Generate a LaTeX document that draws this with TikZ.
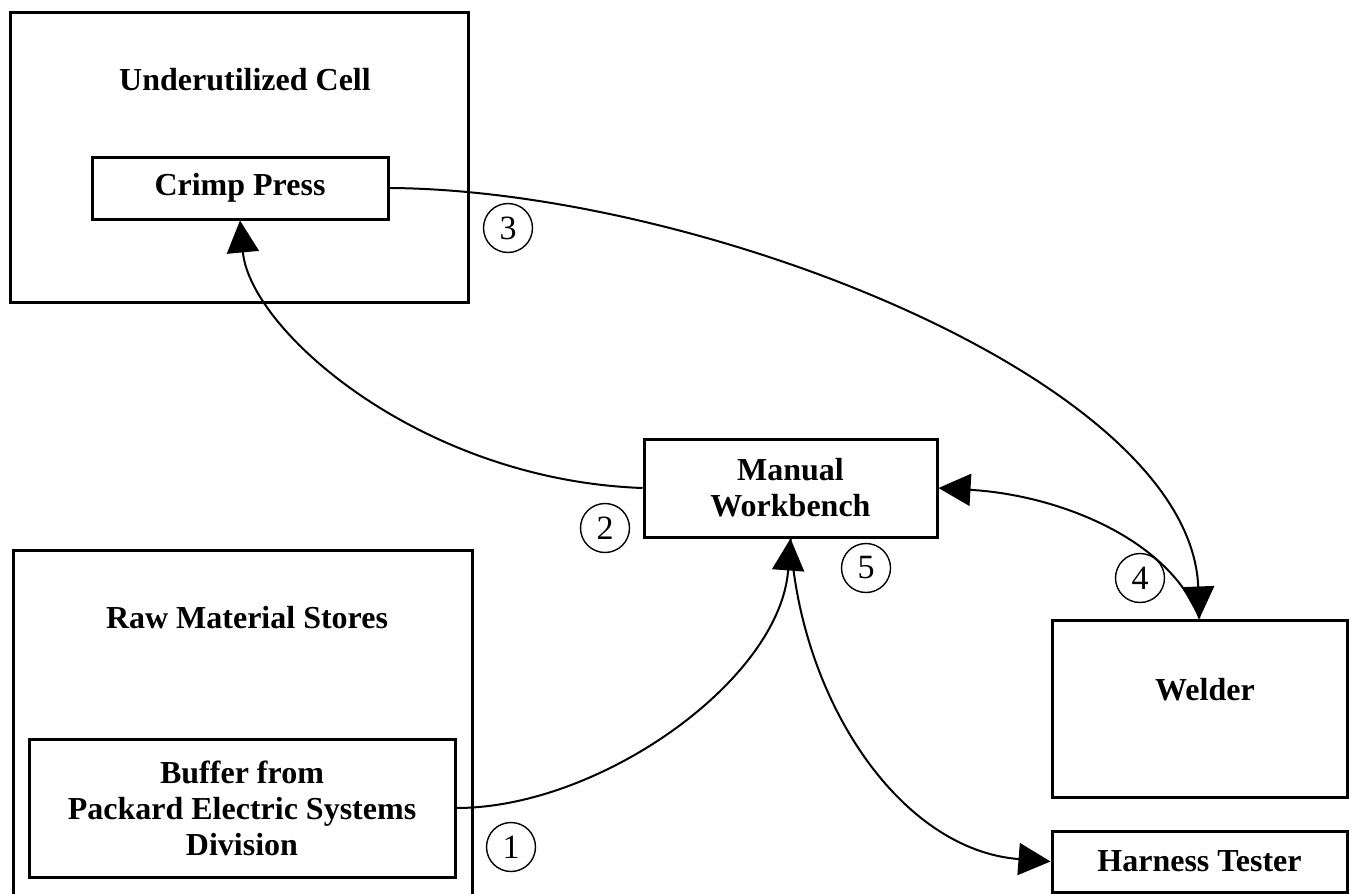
\documentclass[tikz,border=0pt]{standalone}
\usepackage{fontspec}
\setmainfont{Liberation Serif}
\usetikzlibrary{arrows.meta}
\begin{document}
\begin{tikzpicture}[x=0.5pt,y=-0.5pt,
  box/.style={draw, line width=1.5pt, inner sep=0pt, align=center, font=\fontsize{16}{18}\selectfont\bfseries},
  title/.style={inner sep=0pt, font=\fontsize{16}{18}\selectfont\bfseries},
  num/.style={draw, circle, line width=0.7pt, minimum size=24.5pt, inner sep=0pt, font=\fontsize{17}{20}\selectfont},
  conn/.style={line width=1pt, -{Triangle[length=16pt,width=16pt]}}]
\useasboundingbox (0,0) rectangle (1351,894);
\fill[white] (0,0) rectangle (1351,894);
% containers and boxes
\node[box, minimum width=229pt, minimum height=145pt] (cell) at (239,157) {};
\node[title] (celltitle) at (245,80) {Underutilized Cell};
\node[box, minimum width=148pt, minimum height=31pt] (crimp) at (240,188) {Crimp Press};
\node[box, minimum width=229.5pt, minimum height=175pt] (stores) at (242.5,725) {};
\node[title] (storestitle) at (247,618) {Raw Material Stores};
\node[box, minimum width=213pt, minimum height=69pt] (buffer) at (242,808) {Buffer from\\Packard Electric Systems\\Division};
\node[box, minimum width=146.5pt, minimum height=49pt] (mw) at (790.5,488) {Manual\\Workbench};
\node[box, minimum width=147.5pt, minimum height=88.5pt] (welder) at (1199.5,708.5) {};
\node[title] (weldertitle) at (1205,690) {Welder};
\node[box, minimum width=147.5pt, minimum height=30.5pt] (harness) at (1199.5,861.5) {Harness Tester};
% connectors
\draw[conn] (buffer.east) .. controls (600,808) and (780,680) .. (mw.south);
\draw[conn] (mw.west) .. controls (420,480) and (250,330) .. (crimp.south);
\draw[conn] (crimp.east) .. controls (700,190) and (1190,380) .. (welder.north);
\draw[conn] (welder.north) .. controls (1170,540) and (1060,495) .. (mw.east);
\draw[conn] (mw.south) .. controls (800,700) and (900,850) .. (harness.west);
% step numbers
\node[num] (n1) at (511,847) {1};
\node[num] (n2) at (605,528) {2};
\node[num] (n3) at (508,228) {3};
\node[num] (n4) at (1140,578) {4};
\node[num] (n5) at (866,568) {5};
\end{tikzpicture}
\end{document}
